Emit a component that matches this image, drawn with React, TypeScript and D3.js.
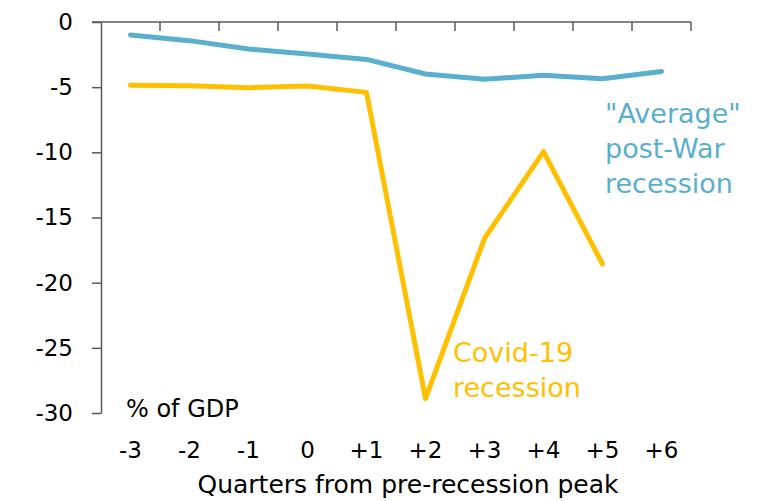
import { useEffect, useRef } from "react";
import * as d3 from "d3";

const quarters = ["-3", "-2", "-1", "0", "+1", "+2", "+3", "+4", "+5", "+6"];
const averageRecession = [-1.0, -1.43, -2.07, -2.46, -2.87, -3.99, -4.4, -4.09, -4.35, -3.79];
const covidQuarters = ["-3", "-2", "-1", "0", "+1", "+2", "+3", "+4", "+5"];
const covidRecession = [-4.86, -4.89, -5.04, -4.91, -5.4, -28.9, -16.6, -9.95, -18.57];
const yTicks = [0, -5, -10, -15, -20, -25, -30];

const FONT = "'DejaVu Sans', sans-serif";
const BLUE = "#5aafce";
const YELLOW = "#ffc000";
const AXIS = "#595959";

export default function App() {
  const svgRef = useRef<SVGSVGElement>(null);

  useEffect(() => {
    document.body.style.margin = "0";
    if (!svgRef.current) return;
    const svg = d3.select(svgRef.current);
    svg.selectAll("*").remove();

    const x = d3.scaleBand<string>().domain(quarters).range([101, 691]);
    const y = d3.scaleLinear().domain([0, -30]).range([22, 413]);
    const cx = (q: string) => (x(q) ?? 0) + x.bandwidth() / 2;

    // y axis
    const yAxis = svg.append("g").attr("transform", "translate(101,0)")
      .call(d3.axisLeft(y).tickValues(yTicks).tickSize(9).tickPadding(19).tickSizeOuter(0)
        .tickFormat((d) => `${d}`));
    yAxis.select(".domain").attr("stroke", AXIS).attr("stroke-width", 1.5);
    yAxis.selectAll(".tick line").attr("stroke", AXIS).attr("stroke-width", 1.5);
    yAxis.selectAll(".tick text").attr("fill", "#000").style("font-family", FONT).style("font-size", "23px");

    // x axis along the zero line, ticks at category edges
    const xg = svg.append("g");
    xg.append("line").attr("x1", 92).attr("x2", 691).attr("y1", y(0)).attr("y2", y(0))
      .attr("stroke", AXIS).attr("stroke-width", 1.5);
    const edges = quarters.map((q) => x(q) ?? 0).concat([(x(quarters[quarters.length - 1]) ?? 0) + x.bandwidth()]);
    xg.selectAll("line.tick").data(edges.slice(1)).enter().append("line")
      .attr("class", "tick")
      .attr("x1", (d) => d).attr("x2", (d) => d)
      .attr("y1", y(0)).attr("y2", y(0) + 9)
      .attr("stroke", AXIS).attr("stroke-width", 1.5);
    xg.selectAll("text").data(quarters).enter().append("text")
      .attr("x", (d) => cx(d)).attr("y", 458)
      .attr("text-anchor", "middle")
      .style("font-family", FONT).style("font-size", "23px")
      .text((d) => d);

    svg.append("text").attr("x", 408).attr("y", 493).attr("text-anchor", "middle")
      .style("font-family", FONT).style("font-size", "25px")
      .text("Quarters from pre-recession peak");

    svg.append("text").attr("x", 126).attr("y", 417)
      .style("font-family", FONT).style("font-size", "24px")
      .text("% of GDP");

    const line = d3.line<[string, number]>().x((d) => cx(d[0])).y((d) => y(d[1]));

    svg.append("path")
      .datum(quarters.map((q, i) => [q, averageRecession[i]] as [string, number]))
      .attr("d", line).attr("fill", "none").attr("stroke", BLUE)
      .attr("stroke-width", 5).attr("stroke-linecap", "round").attr("stroke-linejoin", "round");

    svg.append("path")
      .datum(covidQuarters.map((q, i) => [q, covidRecession[i]] as [string, number]))
      .attr("d", line).attr("fill", "none").attr("stroke", YELLOW)
      .attr("stroke-width", 5).attr("stroke-linecap", "round").attr("stroke-linejoin", "round");

    const avgLabel = ['"Average"', "post-War", "recession"];
    svg.append("g").selectAll("text").data(avgLabel).enter().append("text")
      .attr("x", 605).attr("y", (_, i) => 123 + i * 35)
      .attr("fill", BLUE).style("font-family", FONT).style("font-size", "27px")
      .text((d) => d);

    const covidLabel = ["Covid-19", "recession"];
    svg.append("g").selectAll("text").data(covidLabel).enter().append("text")
      .attr("x", 453).attr("y", (_, i) => 362 + i * 35)
      .attr("fill", YELLOW).style("font-family", FONT).style("font-size", "27px")
      .text((d) => d);
  }, []);

  return <svg ref={svgRef} width={761} height={501} style={{ display: "block" }} />;
}
